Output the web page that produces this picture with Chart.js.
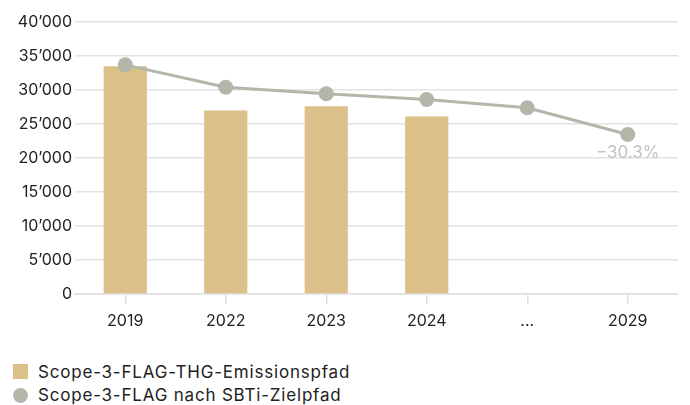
<!DOCTYPE html>
<html>
<head>
<meta charset="utf-8">
<script src="https://cdn.jsdelivr.net/npm/chart.js@4/dist/chart.umd.min.js"></script>
<style>
  body { margin: 0; background: #fff; font-family: Inter, "Noto Sans", sans-serif; }
  #wrap { position: relative; width: 690px; height: 405px; }
  #box { position: absolute; left: 0; top: 0; width: 690px; height: 340px; }
  .leg { position: absolute; left: 38px; font-size: 17px; letter-spacing: 0.8px; color: #222; line-height: 20px; }
  .mk { position: absolute; left: 13px; width: 15px; height: 15px; }
</style>
</head>
<body>
<div id="wrap">
  <div id="box"><canvas id="chart"></canvas></div>
  <div class="mk" style="top:364px;background:#dbc08a;"></div>
  <div class="leg" style="top:362px;">Scope-3-FLAG-THG-Emissionspfad</div>
  <div class="mk" style="top:388px;background:#b3b7aa;border-radius:50%;"></div>
  <div class="leg" style="top:385px;">Scope-3-FLAG nach SBTi-Zielpfad</div>
</div>
<script>
// Daten
var years = ['2019', '2022', '2023', '2024', '...', '2029'];
var emissions = [33500, 27000, 27600, 26100, null, null];
var sbtiPath = [33700, 30400, 29450, 28600, 27400, 23450];
var targetLabel = '\u221230.3%';

var barColor = '#dbc08a';
var lineColor = '#b3b7aa';

function fmt(v) {
    return String(v).replace(/\B(?=(\d{3})+(?!\d))/g, '\u2019');
}

// Beschriftung beim letzten Punkt
var labelPlugin = {
    id: 'targetLabel',
    afterDatasetsDraw: function(chart) {
        var meta = chart.getDatasetMeta(1);
        var pt = meta.data[meta.data.length - 1];
        var ctx = chart.ctx;
        ctx.save();
        ctx.font = '17px Inter, "Noto Sans", sans-serif';
        ctx.fillStyle = '#c2c2c2';
        ctx.textAlign = 'center';
        ctx.textBaseline = 'middle';
        ctx.fillText(targetLabel, pt.x, pt.y + 18);
        ctx.restore();
    }
};

var ctx = document.getElementById('chart').getContext('2d');
var myChart = new Chart(ctx, {
    type: 'bar',
    data: {
        labels: years,
        datasets: [{
            label: 'Scope-3-FLAG-THG-Emissionspfad',
            data: emissions,
            backgroundColor: barColor,
            barPercentage: 0.43,
            categoryPercentage: 1,
            order: 1
        }, {
            type: 'line',
            label: 'Scope-3-FLAG nach SBTi-Zielpfad',
            data: sbtiPath,
            borderColor: lineColor,
            backgroundColor: lineColor,
            borderWidth: 3,
            pointRadius: 7.5,
            pointHoverRadius: 7.5,
            pointBorderWidth: 0,
            tension: 0,
            order: 0
        }]
    },
    plugins: [labelPlugin],
    options: {
        responsive: true,
        maintainAspectRatio: false,
        animation: false,
        layout: { padding: { top: 22, right: 12, left: 0, bottom: 0 } },
        plugins: {
            legend: { display: false },
            tooltip: { enabled: false }
        },
        scales: {
            x: {
                offset: true,
                grid: { offset: false, drawOnChartArea: false, drawTicks: true, tickLength: 10, color: '#e0e0e0', lineWidth: 1.5 },
                border: { display: true, color: '#e0e0e0', width: 1.5 },
                ticks: { color: '#222', font: { size: 16, family: 'Inter, "Noto Sans", sans-serif' }, padding: 8 },
                afterFit: function(s) { s.height = 46; }
            },
            y: {
                min: 0,
                max: 40000,
                grid: { color: '#e2e2e2', lineWidth: 1.5, drawTicks: false },
                border: { display: false },
                ticks: {
                    stepSize: 5000,
                    color: '#222',
                    padding: 3,
                    font: { size: 16, family: 'Inter, "Noto Sans", sans-serif' },
                    callback: function(v) { return fmt(v); }
                },
                afterFit: function(s) { s.width = 75; }
            }
        }
    }
});
</script>
</body>
</html>
